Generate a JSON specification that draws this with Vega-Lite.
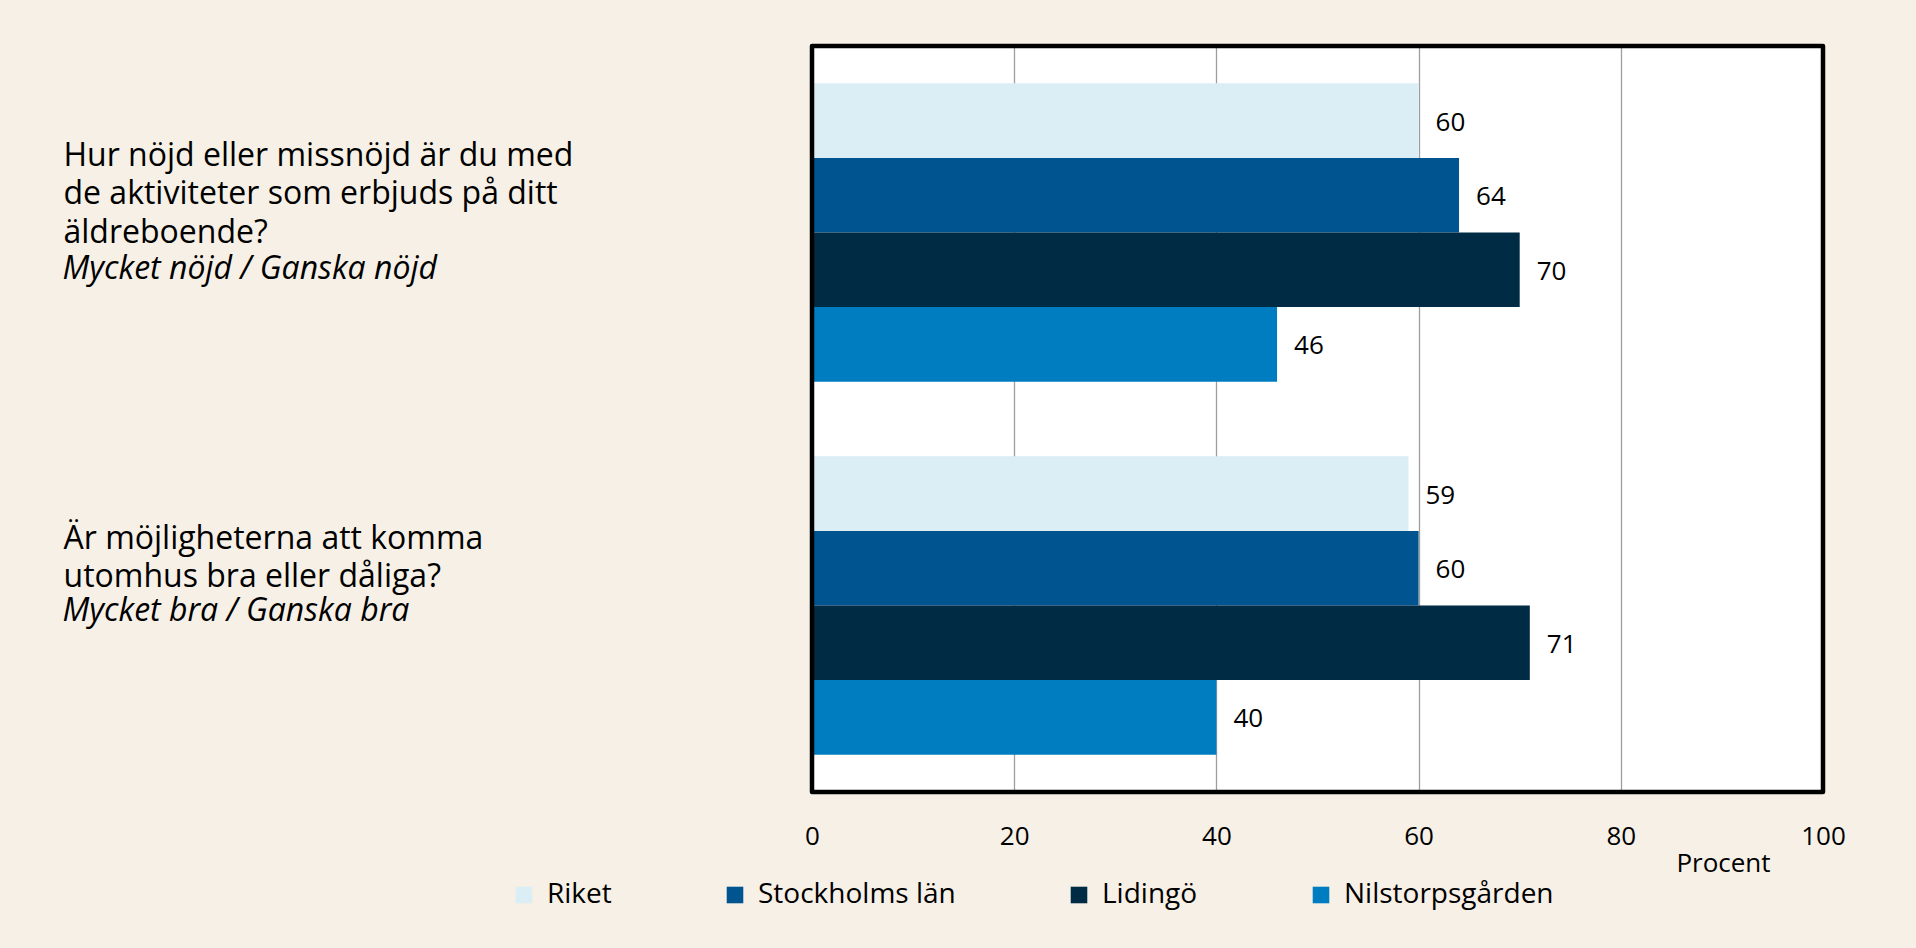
{
  "$schema": "https://vega.github.io/schema/vega-lite/v6.json",
  "width": 1011,
  "height": 746,
  "autosize": {"type": "none"},
  "padding": {"left": 812, "top": 46, "right": 93, "bottom": 156},
  "background": "#F7F0E6",
  "config": {
    "view": {"fill": "white", "stroke": null},
    "font": "Open Sans",
    "text": {"font": "Open Sans"}
  },
  "datasets": {
    "bars": [
      {"fraga": "Hur nöjd eller missnöjd är du med|de aktiviteter som erbjuds på ditt|äldreboende?#Mycket nöjd / Ganska nöjd", "grupp": "Riket", "procent": 60},
      {"fraga": "Hur nöjd eller missnöjd är du med|de aktiviteter som erbjuds på ditt|äldreboende?#Mycket nöjd / Ganska nöjd", "grupp": "Stockholms län", "procent": 64},
      {"fraga": "Hur nöjd eller missnöjd är du med|de aktiviteter som erbjuds på ditt|äldreboende?#Mycket nöjd / Ganska nöjd", "grupp": "Lidingö", "procent": 70},
      {"fraga": "Hur nöjd eller missnöjd är du med|de aktiviteter som erbjuds på ditt|äldreboende?#Mycket nöjd / Ganska nöjd", "grupp": "Nilstorpsgården", "procent": 46},
      {"fraga": "Är möjligheterna att komma|utomhus bra eller dåliga?#Mycket bra / Ganska bra", "grupp": "Riket", "procent": 59},
      {"fraga": "Är möjligheterna att komma|utomhus bra eller dåliga?#Mycket bra / Ganska bra", "grupp": "Stockholms län", "procent": 60},
      {"fraga": "Är möjligheterna att komma|utomhus bra eller dåliga?#Mycket bra / Ganska bra", "grupp": "Lidingö", "procent": 71},
      {"fraga": "Är möjligheterna att komma|utomhus bra eller dåliga?#Mycket bra / Ganska bra", "grupp": "Nilstorpsgården", "procent": 40}
    ],
    "frame": [{"lo": 0, "hi": 100}]
  },
  "layer": [
    {
      "data": {"name": "bars"},
      "mark": {"type": "bar"},
      "encoding": {
        "y": {
          "field": "fraga", "type": "nominal", "sort": null,
          "scale": {"paddingInner": 0.2, "paddingOuter": 0.1},
          "axis": {
            "orient": "left", "title": null, "ticks": false, "domain": false, "grid": false,
            "labelAlign": "left", "labelPadding": 749, "labelLimit": 0,
            "labelExpr": "split(split(datum.value, '#')[0], '|')",
            "labelFont": "Open Sans", "labelFontSize": 32, "labelLineHeight": 38.5, "labelColor": "black",
            "labelOffset": {"condition": {"test": "indexof(datum.value, 'Hur') == 0", "value": -77}, "value": -67}
          }
        },
        "yOffset": {
          "field": "grupp", "type": "nominal",
          "sort": ["Riket", "Stockholms län", "Lidingö", "Nilstorpsgården"],
          "scale": {"paddingInner": 0, "paddingOuter": 0}
        },
        "x": {
          "field": "procent", "type": "quantitative", "title": "Procent",
          "scale": {"domain": [0, 100], "nice": false},
          "axis": {
            "values": [0, 20, 40, 60, 80, 100], "domain": false, "ticks": false,
            "grid": true, "gridColor": "#9E9E9E", "gridWidth": 1.3,
            "labelFlush": false, "labelFont": "Open Sans", "labelFontSize": 26, "labelColor": "black", "labelPadding": 31,
            "titleFont": "Open Sans", "titleFontSize": 26, "titleFontWeight": "normal", "titleColor": "black",
            "titleX": 911, "titleY": 71, "titleAlign": "center", "titleBaseline": "middle"
          }
        },
        "color": {
          "field": "grupp", "type": "nominal",
          "sort": ["Riket", "Stockholms län", "Lidingö", "Nilstorpsgården"],
          "scale": {"domain": ["Riket", "Stockholms län", "Lidingö", "Nilstorpsgården"], "range": ["#DBEEF5", "#005591", "#002B45", "#007CC0"]},
          "legend": {
            "orient": "none", "direction": "horizontal", "legendX": -302, "legendY": 835,
            "title": null, "symbolType": "square", "symbolSize": 275, "symbolStrokeWidth": 0, "symbolOpacity": 1,
            "labelFont": "Open Sans", "labelFontSize": 28, "labelColor": "black", "labelOffset": 9, "labelLimit": 0,
            "columnPadding": 109
          }
        }
      }
    },
    {
      "data": {"name": "bars"},
      "mark": {"type": "text", "align": "left", "baseline": "middle", "dx": 17, "dy": 2, "fontSize": 26, "font": "Open Sans", "color": "black"},
      "encoding": {
        "y": {
          "field": "fraga", "type": "nominal", "sort": null,
          "axis": {
            "orient": "left", "title": null, "ticks": false, "domain": false, "grid": false,
            "labelAlign": "left", "labelPadding": 750, "labelLimit": 0,
            "labelExpr": "split(datum.value, '#')[1]",
            "labelFont": "Open Sans", "labelFontSize": 32, "labelFontStyle": "italic", "labelColor": "black",
            "labelOffset": {"condition": {"test": "indexof(datum.value, 'Hur') == 0", "value": 36}, "value": 5}
          }
        },
        "yOffset": {"field": "grupp", "type": "nominal", "sort": ["Riket", "Stockholms län", "Lidingö", "Nilstorpsgården"]},
        "x": {"field": "procent", "type": "quantitative", "title": "Procent"},
        "text": {"field": "procent", "type": "quantitative"}
      }
    },
    {
      "data": {"name": "frame"},
      "mark": {"type": "rect", "filled": false, "stroke": "black", "strokeWidth": 4.5, "strokeJoin": "round"},
      "encoding": {
        "x": {"field": "lo", "type": "quantitative", "title": "Procent"},
        "x2": {"field": "hi"}
      }
    }
  ],
  "resolve": {"axis": {"y": "independent"}}
}
